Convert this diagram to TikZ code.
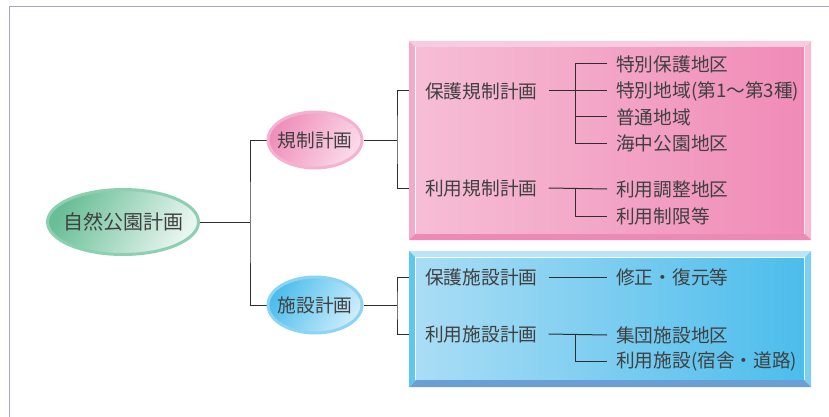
\documentclass[tikz,border=0pt]{standalone}
\usepackage{fontspec}
\setmainfont{Noto Sans CJK JP}
\usetikzlibrary{shapes.geometric}

\definecolor{frameline}{HTML}{A9A3DA}
\definecolor{textgray}{HTML}{404040}
\definecolor{linegray}{HTML}{2E2E2E}

\definecolor{pinktop}{HTML}{F8CCE0}
\definecolor{pinkleft}{HTML}{F3A9CA}
\definecolor{pinkright}{HTML}{F7BBD5}
\definecolor{pinkbottom}{HTML}{EE88B4}
\definecolor{bluetop}{HTML}{B8E6F8}
\definecolor{blueleft}{HTML}{5CC8F0}
\definecolor{blueright}{HTML}{7DCFF2}
\definecolor{bluebottom}{HTML}{6B9ED4}

\pgfdeclarelayer{background}
\pgfsetlayers{background,main}

% beveled panel: y1, top, left, right, y2, bottom
\newcommand{\bevelbox}[6]{%
  \fill[#2] (409,#1) -- (811,#1) -- (804,#1+7) -- (416,#1+7) -- cycle;
  \fill[#3] (409,#1) -- (416,#1+7) -- (416,#5-7) -- (409,#5) -- cycle;
  \fill[#4] (811,#1) -- (811,#5) -- (804,#5-7) -- (804,#1+7) -- cycle;
  \fill[#6] (409,#5) -- (811,#5) -- (804,#5-7) -- (416,#5-7) -- cycle;
}

\tikzset{
  plan/.style={ellipse, inner sep=0pt, text=textgray, line width=3pt,
    minimum width=94pt, minimum height=56pt, font=\fontsize{18.7}{20}\selectfont},
  leftlabel/.style={anchor=west, inner xsep=11pt, inner ysep=2pt, text=textgray,
    font=\fontsize{18.7}{20}\selectfont},
  item/.style={anchor=west, inner xsep=9pt, inner ysep=2pt, text=textgray,
    font=\fontsize{18.7}{20}\selectfont},
  link/.style={draw=linegray, line width=1pt}
}

\begin{document}
\begin{tikzpicture}[x=1pt,y=-1pt]

    \useasboundingbox (0,0) rectangle (829,417);

    % frame
    \draw[color=frameline, line width=1pt] (829,7) -- (9,7) -- (9,417);

    % pink panel
    \bevelbox{41}{pinktop}{pinkleft}{pinkright}{240}{pinkbottom}
    \fill[color=white] (415,47) rectangle (805,234);
    \shade[left color={rgb,255:red,246;green,190;blue,214}, right color={rgb,255:red,240;green,139;blue,183}] (416,48) rectangle (804,233);

    % blue panel
    \bevelbox{251}{bluetop}{blueleft}{blueright}{387}{bluebottom}
    \fill[color=white] (415,257) rectangle (805,380);
    \shade[left color={rgb,255:red,170;green,221;blue,245}, right color={rgb,255:red,76;green,189;blue,236}] (416,258) rectangle (804,379);

    % plans
    \node[plan, draw={rgb,255:red,140;green,208;blue,177}, minimum width=151pt, minimum height=65pt,
      font=\fontsize{20}{22}\selectfont,
      left color={rgb,255:red,104;green,190;blue,150}, right color={rgb,255:red,232;green,246;blue,239},
      shading angle=60] (park) at (123,222) {\makebox[0pt]{自然公園計画}};
    \node[plan, draw={rgb,255:red,245;green,178;blue,208},
      left color={rgb,255:red,239;green,142;blue,186}, right color={rgb,255:red,251;green,218;blue,233},
      shading angle=60] (regul) at (315,140) {\makebox[0pt]{規制計画}};
    \node[plan, draw={rgb,255:red,140;green,212;blue,244},
      left color={rgb,255:red,76;green,189;blue,236}, right color={rgb,255:red,205;green,237;blue,251},
      shading angle=60] (facil) at (315,305) {\makebox[0pt]{施設計画}};

    % pink panel texts
    \node[leftlabel] (pprot) at (414,91) {保護規制計画};
    \node[leftlabel] (pusage) at (414,188) {利用規制計画};
    \node[item] (pitema) at (607,64) {特別保護地区};
    \node[item] (pitemb) at (607,91) {特別地域(第1〜第3種)};
    \node[item] (pitemc) at (607,117) {普通地域};
    \node[item] (pitemd) at (607,143) {海中公園地区};
    \node[item] (uitema) at (607,189) {利用調整地区};
    \node[item] (uitemb) at (607,216) {利用制限等};

    % blue panel texts
    \node[leftlabel] (fprot) at (414,277) {保護施設計画};
    \node[leftlabel] (fusage) at (414,334) {利用施設計画};
    \node[item] (fitem) at (607,277) {修正・復元等};
    \node[item] (gitema) at (607,335) {集団施設地区};
    \node[item] (gitemb) at (607,361) {利用施設(宿舎・道路)};

    % connectors
    \coordinate (mj) at (250,222);
    \coordinate (rj) at (397,140);
    \coordinate (fj) at (397,305);
    \begin{pgfonlayer}{background}
    \draw[link] (park.east) -- (mj);
    \draw[link] (regul.west) -| (mj) |- (facil.west);
    \draw[link] (regul.east) -- (rj);
    \draw[link] (pprot.west) -| (rj) |- (pusage.west);
    \draw[link] (facil.east) -- (fj);
    \draw[link] (fprot.west) -| (fj) |- (fusage.west);
    \end{pgfonlayer}

    \draw[link] (pprot.east) -- (pitemb.west);
    \draw[link] (pitema.west) -- ++(-32,0) |- (pitemd.west);
    \draw[link] (pitemc.west) -- ++(-32,0);
    \draw[link] (pusage.east) -- (uitema.west);
    \draw[link] ([xshift=-32pt]uitema.west) |- (uitemb.west);
    \draw[link] (fprot.east) -- (fitem.west);
    \draw[link] (fusage.east) -- (gitema.west);
    \draw[link] ([xshift=-32pt]gitema.west) |- (gitemb.west);

\end{tikzpicture}
\end{document}
